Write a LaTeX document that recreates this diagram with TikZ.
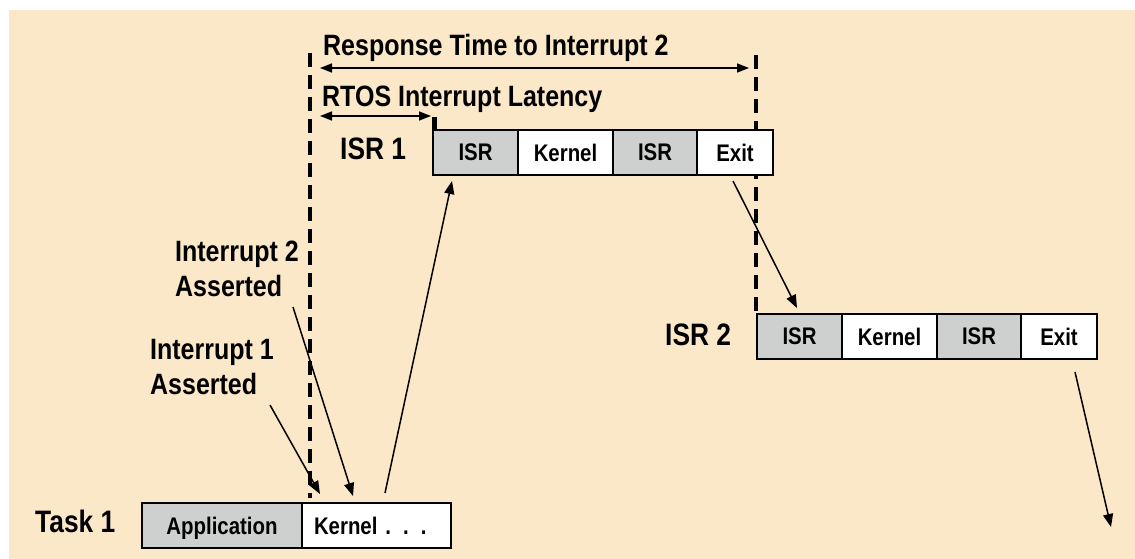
\documentclass[tikz,border=0pt]{standalone}
\usepackage{fontspec}
\setmainfont{Liberation Sans}[FakeStretch=0.85]
\usetikzlibrary{positioning,arrows.meta}

\definecolor{paper}{RGB}{251,232,200}
\definecolor{isrgray}{RGB}{205,208,206}

\tikzstyle{cell}=[draw=black, line width=1.3pt, outer sep=0pt, inner sep=0pt, minimum height=45pt, text depth=0pt, font=\fontsize{24}{28}\selectfont\bfseries]
\tikzstyle{gcell}=[cell, fill=isrgray]
\tikzstyle{wcell}=[cell, fill=white]
\tikzstyle{lbl}=[inner sep=0pt, align=left, font=\fontsize{29.4}{35}\selectfont\bfseries]
\tikzstyle{rowlbl}=[inner sep=0pt, anchor=base west, font=\fontsize{31}{36}\selectfont\bfseries]
\tikzstyle{fence}=[line width=4.5pt, dash pattern=on 14pt off 8pt]
\tikzstyle{flow}=[line width=1.5pt, -{Triangle[length=13pt,width=10pt]}]
\tikzstyle{measure}=[line width=1.5pt, {Triangle[length=12pt,width=9pt]}-{Triangle[length=12pt,width=9pt]}]

% one ISR run: ISR, kernel, ISR, exit
\newcommand{\isrrow}[3]{
	\node[gcell, minimum width=85pt, anchor=north west] (#1a) at (#2,#3) {ISR};
	\node[wcell, minimum width=95pt, right=0pt of #1a] (#1b) {Kernel};
	\node[gcell, minimum width=84pt, right=0pt of #1b] (#1c) {ISR};
	\node[wcell, minimum width=76pt, right=0pt of #1c] (#1d) {Exit};
}

\begin{document}
\begin{tikzpicture}[x=1pt, y=-1pt]
\useasboundingbox (0,0) rectangle (1135,559);
\fill[paper] (9,10) rectangle (1135,559);

% time marks, behind the boxes
\coordinate (ltop) at (310,53);
\coordinate (lbot) at (310,498);
\coordinate (rtop) at (756,55);
\coordinate (rbot) at (756,311);
\draw[fence] (ltop) -- (lbot);
\draw[fence] (rtop) -- (rbot);

\isrrow{ia}{433}{130}
\isrrow{ib}{757}{314}
\node[gcell, minimum width=160pt, anchor=north west] (app) at (142,503) {Application};
\node[wcell, minimum width=149pt, text width=125pt, inner xsep=12pt, align=left, right=0pt of app] (tk) {Kernel . . .};

\node[rowlbl] (isr1) at (340,160) {ISR 1};
\node[rowlbl] (isr2) at (665,345) {ISR 2};
\node[rowlbl] (task1) at (35,532) {Task 1};

\node[lbl, anchor=north west] (irq2) at (175,241) {Interrupt 2\\Asserted};
\node[lbl, anchor=north west] (irq1) at (150,339) {Interrupt 1\\Asserted};
\node[lbl, anchor=base west] (resp) at (323,56) {Response Time to Interrupt 2};
\node[lbl, anchor=base west] (lat) at (322,107) {RTOS Interrupt Latency};

\draw[line width=4.5pt] ([xshift=1.5pt]iaa.north west) -- ++(0,-13);

\coordinate (r0) at (320,68);
\coordinate (r1) at (749,68);
\coordinate (l0) at (320,116);
\coordinate (l1) at (431,116);
\draw[measure] (r0) -- (r1);
\draw[measure] (l0) -- (l1);

% control flow
\coordinate (a1) at (270,405);
\coordinate (a1e) at (320,494);
\coordinate (a2) at (293,307);
\coordinate (a2e) at (353,496);
\coordinate (t1) at (385,493);
\coordinate (t1e) at (452,181);
\coordinate (x1) at (733,181);
\coordinate (x1e) at (797,308);
\coordinate (x2) at (1075,372);
\coordinate (x2e) at (1111,527);
\draw[flow] (a1) -- (a1e);
\draw[flow] (a2) -- (a2e);
\draw[flow] (t1) -- (t1e);
\draw[flow] (x1) -- (x1e);
\draw[flow] (x2) -- (x2e);
\end{tikzpicture}
\end{document}
